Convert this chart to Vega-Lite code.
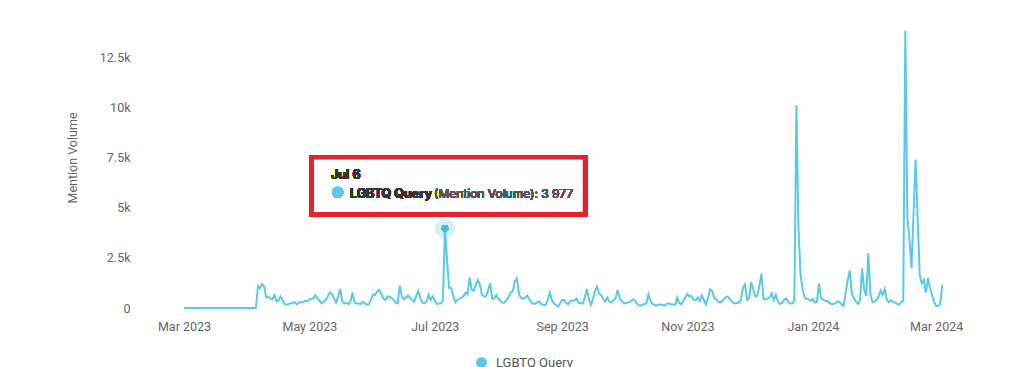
{
"$schema": "https://vega.github.io/schema/vega-lite/v6.json",
"width": 837, "height": 301,
"autosize": {"type": "none"},
"padding": {"left": 145, "top": 7, "right": 45, "bottom": 59},
"background": "#ffffff",
"config": {"view": {"stroke": null}, "font": "Roboto"},
"data": {"values": [
{"date":"2023-03-01","volume":0},{"date":"2023-03-02","volume":0},{"date":"2023-03-03","volume":0},{"date":"2023-03-04","volume":0},{"date":"2023-03-05","volume":0},{"date":"2023-03-06","volume":0},{"date":"2023-03-07","volume":0},{"date":"2023-03-08","volume":0},{"date":"2023-03-09","volume":0},{"date":"2023-03-10","volume":0},{"date":"2023-03-11","volume":0},{"date":"2023-03-12","volume":0},{"date":"2023-03-13","volume":0},{"date":"2023-03-14","volume":0},{"date":"2023-03-15","volume":0},{"date":"2023-03-16","volume":0},{"date":"2023-03-17","volume":0},{"date":"2023-03-18","volume":0},{"date":"2023-03-19","volume":0},{"date":"2023-03-20","volume":0},{"date":"2023-03-21","volume":0},{"date":"2023-03-22","volume":0},{"date":"2023-03-23","volume":0},{"date":"2023-03-24","volume":0},{"date":"2023-03-25","volume":0},{"date":"2023-03-26","volume":0},{"date":"2023-03-27","volume":0},{"date":"2023-03-28","volume":0},{"date":"2023-03-29","volume":0},{"date":"2023-03-30","volume":0},{"date":"2023-03-31","volume":0},
{"date":"2023-04-01","volume":0},{"date":"2023-04-02","volume":0},{"date":"2023-04-03","volume":0},{"date":"2023-04-04","volume":0},{"date":"2023-04-05","volume":0},{"date":"2023-04-06","volume":1100},{"date":"2023-04-07","volume":980},{"date":"2023-04-08","volume":1200},{"date":"2023-04-09","volume":1070},{"date":"2023-04-10","volume":530},{"date":"2023-04-11","volume":570},{"date":"2023-04-12","volume":480},{"date":"2023-04-13","volume":430},{"date":"2023-04-14","volume":650},{"date":"2023-04-15","volume":320},{"date":"2023-04-16","volume":400},{"date":"2023-04-17","volume":570},{"date":"2023-04-18","volume":400},{"date":"2023-04-19","volume":180},{"date":"2023-04-20","volume":170},{"date":"2023-04-21","volume":200},{"date":"2023-04-22","volume":230},{"date":"2023-04-23","volume":270},{"date":"2023-04-24","volume":280},{"date":"2023-04-25","volume":170},{"date":"2023-04-26","volume":280},{"date":"2023-04-27","volume":270},{"date":"2023-04-28","volume":300},{"date":"2023-04-29","volume":370},{"date":"2023-04-30","volume":330},
{"date":"2023-05-01","volume":430},{"date":"2023-05-02","volume":430},{"date":"2023-05-03","volume":480},{"date":"2023-05-04","volume":650},{"date":"2023-05-05","volume":450},{"date":"2023-05-06","volume":350},{"date":"2023-05-07","volume":230},{"date":"2023-05-08","volume":320},{"date":"2023-05-09","volume":400},{"date":"2023-05-10","volume":570},{"date":"2023-05-11","volume":780},{"date":"2023-05-12","volume":700},{"date":"2023-05-13","volume":480},{"date":"2023-05-14","volume":270},{"date":"2023-05-15","volume":570},{"date":"2023-05-16","volume":950},{"date":"2023-05-17","volume":320},{"date":"2023-05-18","volume":230},{"date":"2023-05-19","volume":270},{"date":"2023-05-20","volume":180},{"date":"2023-05-21","volume":320},{"date":"2023-05-22","volume":770},{"date":"2023-05-23","volume":270},{"date":"2023-05-24","volume":230},{"date":"2023-05-25","volume":230},{"date":"2023-05-26","volume":200},{"date":"2023-05-27","volume":320},{"date":"2023-05-28","volume":230},{"date":"2023-05-29","volume":170},{"date":"2023-05-30","volume":180},{"date":"2023-05-31","volume":430},
{"date":"2023-06-01","volume":680},{"date":"2023-06-02","volume":650},{"date":"2023-06-03","volume":820},{"date":"2023-06-04","volume":900},{"date":"2023-06-05","volume":700},{"date":"2023-06-06","volume":480},{"date":"2023-06-07","volume":400},{"date":"2023-06-08","volume":570},{"date":"2023-06-09","volume":570},{"date":"2023-06-10","volume":500},{"date":"2023-06-11","volume":420},{"date":"2023-06-12","volume":270},{"date":"2023-06-13","volume":230},{"date":"2023-06-14","volume":1120},{"date":"2023-06-15","volume":570},{"date":"2023-06-16","volume":430},{"date":"2023-06-17","volume":500},{"date":"2023-06-18","volume":620},{"date":"2023-06-19","volume":520},{"date":"2023-06-20","volume":400},{"date":"2023-06-21","volume":320},{"date":"2023-06-22","volume":600},{"date":"2023-06-23","volume":850},{"date":"2023-06-24","volume":500},{"date":"2023-06-25","volume":270},{"date":"2023-06-26","volume":230},{"date":"2023-06-27","volume":320},{"date":"2023-06-28","volume":650},{"date":"2023-06-29","volume":400},{"date":"2023-06-30","volume":570},
{"date":"2023-07-01","volume":400},{"date":"2023-07-02","volume":200},{"date":"2023-07-03","volume":230},{"date":"2023-07-04","volume":230},{"date":"2023-07-05","volume":400},{"date":"2023-07-06","volume":3977},{"date":"2023-07-07","volume":2400},{"date":"2023-07-08","volume":1000},{"date":"2023-07-09","volume":1000},{"date":"2023-07-10","volume":600},{"date":"2023-07-11","volume":280},{"date":"2023-07-12","volume":400},{"date":"2023-07-13","volume":450},{"date":"2023-07-14","volume":520},{"date":"2023-07-15","volume":600},{"date":"2023-07-16","volume":770},{"date":"2023-07-17","volume":680},{"date":"2023-07-18","volume":1530},{"date":"2023-07-19","volume":900},{"date":"2023-07-20","volume":850},{"date":"2023-07-21","volume":1150},{"date":"2023-07-22","volume":1400},{"date":"2023-07-23","volume":1150},{"date":"2023-07-24","volume":650},{"date":"2023-07-25","volume":570},{"date":"2023-07-26","volume":570},{"date":"2023-07-27","volume":900},{"date":"2023-07-28","volume":1230},{"date":"2023-07-29","volume":450},{"date":"2023-07-30","volume":480},{"date":"2023-07-31","volume":650},
{"date":"2023-08-01","volume":450},{"date":"2023-08-02","volume":350},{"date":"2023-08-03","volume":250},{"date":"2023-08-04","volume":280},{"date":"2023-08-05","volume":400},{"date":"2023-08-06","volume":550},{"date":"2023-08-07","volume":780},{"date":"2023-08-08","volume":850},{"date":"2023-08-09","volume":1320},{"date":"2023-08-10","volume":1480},{"date":"2023-08-11","volume":700},{"date":"2023-08-12","volume":500},{"date":"2023-08-13","volume":450},{"date":"2023-08-14","volume":500},{"date":"2023-08-15","volume":620},{"date":"2023-08-16","volume":450},{"date":"2023-08-17","volume":280},{"date":"2023-08-18","volume":200},{"date":"2023-08-19","volume":220},{"date":"2023-08-20","volume":280},{"date":"2023-08-21","volume":320},{"date":"2023-08-22","volume":180},{"date":"2023-08-23","volume":150},{"date":"2023-08-24","volume":150},{"date":"2023-08-25","volume":400},{"date":"2023-08-26","volume":770},{"date":"2023-08-27","volume":400},{"date":"2023-08-28","volume":230},{"date":"2023-08-29","volume":150},{"date":"2023-08-30","volume":70},{"date":"2023-08-31","volume":230},
{"date":"2023-09-01","volume":400},{"date":"2023-09-02","volume":400},{"date":"2023-09-03","volume":250},{"date":"2023-09-04","volume":180},{"date":"2023-09-05","volume":350},{"date":"2023-09-06","volume":380},{"date":"2023-09-07","volume":380},{"date":"2023-09-08","volume":480},{"date":"2023-09-09","volume":250},{"date":"2023-09-10","volume":250},{"date":"2023-09-11","volume":220},{"date":"2023-09-12","volume":500},{"date":"2023-09-13","volume":950},{"date":"2023-09-14","volume":480},{"date":"2023-09-15","volume":150},{"date":"2023-09-16","volume":450},{"date":"2023-09-17","volume":850},{"date":"2023-09-18","volume":1070},{"date":"2023-09-19","volume":700},{"date":"2023-09-20","volume":650},{"date":"2023-09-21","volume":450},{"date":"2023-09-22","volume":320},{"date":"2023-09-23","volume":520},{"date":"2023-09-24","volume":320},{"date":"2023-09-25","volume":270},{"date":"2023-09-26","volume":400},{"date":"2023-09-27","volume":480},{"date":"2023-09-28","volume":900},{"date":"2023-09-29","volume":500},{"date":"2023-09-30","volume":350},
{"date":"2023-10-01","volume":230},{"date":"2023-10-02","volume":250},{"date":"2023-10-03","volume":270},{"date":"2023-10-04","volume":300},{"date":"2023-10-05","volume":380},{"date":"2023-10-06","volume":430},{"date":"2023-10-07","volume":280},{"date":"2023-10-08","volume":150},{"date":"2023-10-09","volume":120},{"date":"2023-10-10","volume":150},{"date":"2023-10-11","volume":200},{"date":"2023-10-12","volume":230},{"date":"2023-10-13","volume":680},{"date":"2023-10-14","volume":350},{"date":"2023-10-15","volume":200},{"date":"2023-10-16","volume":150},{"date":"2023-10-17","volume":120},{"date":"2023-10-18","volume":180},{"date":"2023-10-19","volume":180},{"date":"2023-10-20","volume":150},{"date":"2023-10-21","volume":120},{"date":"2023-10-22","volume":220},{"date":"2023-10-23","volume":220},{"date":"2023-10-24","volume":190},{"date":"2023-10-25","volume":180},{"date":"2023-10-26","volume":150},{"date":"2023-10-27","volume":520},{"date":"2023-10-28","volume":250},{"date":"2023-10-29","volume":180},{"date":"2023-10-30","volume":350},{"date":"2023-10-31","volume":550},
{"date":"2023-11-01","volume":700},{"date":"2023-11-02","volume":570},{"date":"2023-11-03","volume":600},{"date":"2023-11-04","volume":400},{"date":"2023-11-05","volume":380},{"date":"2023-11-06","volume":520},{"date":"2023-11-07","volume":350},{"date":"2023-11-08","volume":620},{"date":"2023-11-09","volume":400},{"date":"2023-11-10","volume":180},{"date":"2023-11-11","volume":500},{"date":"2023-11-12","volume":930},{"date":"2023-11-13","volume":850},{"date":"2023-11-14","volume":500},{"date":"2023-11-15","volume":430},{"date":"2023-11-16","volume":320},{"date":"2023-11-17","volume":270},{"date":"2023-11-18","volume":350},{"date":"2023-11-19","volume":480},{"date":"2023-11-20","volume":580},{"date":"2023-11-21","volume":530},{"date":"2023-11-22","volume":400},{"date":"2023-11-23","volume":270},{"date":"2023-11-24","volume":230},{"date":"2023-11-25","volume":250},{"date":"2023-11-26","volume":270},{"date":"2023-11-27","volume":400},{"date":"2023-11-28","volume":1000},{"date":"2023-11-29","volume":1180},{"date":"2023-11-30","volume":400},
{"date":"2023-12-01","volume":500},{"date":"2023-12-02","volume":1280},{"date":"2023-12-03","volume":930},{"date":"2023-12-04","volume":570},{"date":"2023-12-05","volume":620},{"date":"2023-12-06","volume":1100},{"date":"2023-12-07","volume":1700},{"date":"2023-12-08","volume":450},{"date":"2023-12-09","volume":430},{"date":"2023-12-10","volume":480},{"date":"2023-12-11","volume":530},{"date":"2023-12-12","volume":730},{"date":"2023-12-13","volume":400},{"date":"2023-12-14","volume":650},{"date":"2023-12-15","volume":320},{"date":"2023-12-16","volume":200},{"date":"2023-12-17","volume":250},{"date":"2023-12-18","volume":400},{"date":"2023-12-19","volume":480},{"date":"2023-12-20","volume":320},{"date":"2023-12-21","volume":230},{"date":"2023-12-22","volume":230},{"date":"2023-12-23","volume":350},{"date":"2023-12-24","volume":10100},{"date":"2023-12-25","volume":4000},{"date":"2023-12-26","volume":1700},{"date":"2023-12-27","volume":950},{"date":"2023-12-28","volume":530},{"date":"2023-12-29","volume":450},{"date":"2023-12-30","volume":430},{"date":"2023-12-31","volume":350},
{"date":"2024-01-01","volume":450},{"date":"2024-01-02","volume":270},{"date":"2024-01-03","volume":300},{"date":"2024-01-04","volume":1230},{"date":"2024-01-05","volume":500},{"date":"2024-01-06","volume":430},{"date":"2024-01-07","volume":350},{"date":"2024-01-08","volume":370},{"date":"2024-01-09","volume":250},{"date":"2024-01-10","volume":200},{"date":"2024-01-11","volume":200},{"date":"2024-01-12","volume":230},{"date":"2024-01-13","volume":320},{"date":"2024-01-14","volume":300},{"date":"2024-01-15","volume":180},{"date":"2024-01-16","volume":100},{"date":"2024-01-17","volume":800},{"date":"2024-01-18","volume":1400},{"date":"2024-01-19","volume":1870},{"date":"2024-01-20","volume":700},{"date":"2024-01-21","volume":480},{"date":"2024-01-22","volume":320},{"date":"2024-01-23","volume":200},{"date":"2024-01-24","volume":400},{"date":"2024-01-25","volume":1980},{"date":"2024-01-26","volume":900},{"date":"2024-01-27","volume":600},{"date":"2024-01-28","volume":2730},{"date":"2024-01-29","volume":700},{"date":"2024-01-30","volume":300},{"date":"2024-01-31","volume":320},
{"date":"2024-02-01","volume":400},{"date":"2024-02-02","volume":570},{"date":"2024-02-03","volume":870},{"date":"2024-02-04","volume":650},{"date":"2024-02-05","volume":950},{"date":"2024-02-06","volume":400},{"date":"2024-02-07","volume":280},{"date":"2024-02-08","volume":400},{"date":"2024-02-09","volume":300},{"date":"2024-02-10","volume":280},{"date":"2024-02-11","volume":200},{"date":"2024-02-12","volume":150},{"date":"2024-02-13","volume":300},{"date":"2024-02-14","volume":350},{"date":"2024-02-15","volume":13820},{"date":"2024-02-16","volume":4570},{"date":"2024-02-17","volume":3400},{"date":"2024-02-18","volume":1980},{"date":"2024-02-19","volume":4700},{"date":"2024-02-20","volume":7400},{"date":"2024-02-21","volume":4500},{"date":"2024-02-22","volume":1650},{"date":"2024-02-23","volume":1230},{"date":"2024-02-24","volume":1400},{"date":"2024-02-25","volume":770},{"date":"2024-02-26","volume":1480},{"date":"2024-02-27","volume":1000},{"date":"2024-02-28","volume":650},{"date":"2024-02-29","volume":320},
{"date":"2024-03-01","volume":100},{"date":"2024-03-02","volume":100},{"date":"2024-03-03","volume":200},{"date":"2024-03-04","volume":1150}
]},
"layer": [
{"mark": {"type": "point", "filled": true, "size": 380, "fill": "#d6f1f8", "strokeWidth": 0, "opacity": 1},
 "encoding": {"x": {"datum": {"year": 2023, "month": 7, "date": 6, "utc": true}, "type": "temporal"}, "y": {"datum": 3977, "type": "quantitative"}}},
{"mark": {"type": "line", "strokeWidth": 2, "interpolate": "linear"},
 "encoding": {
  "x": {"field": "date", "type": "temporal",
        "scale": {"type": "utc", "domain": [{"year": 2023, "month": 2, "date": 10, "hours": 0, "minutes": 30, "utc": true}, {"year": 2024, "month": 3, "date": 23, "hours": 7, "minutes": 40, "utc": true}]},
        "axis": {"title": null, "format": "%b %Y", "tickCount": {"interval": "month", "step": 2}, "grid": false, "domain": false, "ticks": false, "labelPadding": 12, "labelFontSize": 12.5, "labelColor": "#666666", "labelFont": "Roboto"}},
  "y": {"field": "volume", "type": "quantitative",
        "scale": {"domain": [0, 15000], "nice": false},
        "axis": {"title": "Mention Volume", "values": [0, 2500, 5000, 7500, 10000, 12500], "labelExpr": "datum.value === 0 ? '0' : (datum.value / 1000) + 'k'", "domain": false, "ticks": false, "labelPadding": 15, "labelFontSize": 12.5, "labelColor": "#666666", "labelFont": "Roboto", "titleColor": "#666666", "titleFont": "Roboto", "titleFontSize": 12.5, "titleFontWeight": "normal", "titlePadding": 20, "gridDash": [1, 2], "gridWidth": 1, "gridColor": {"condition": {"test": "datum.value === 0", "value": "#8e94a3"}, "value": "#bdbdbd"}}},
  "color": {"datum": "LGBTQ Query", "scale": {"range": ["#58c9e6"]},
            "legend": {"orient": "none", "legendX": 330, "legendY": 349, "title": null, "symbolType": "circle", "symbolSize": 120, "symbolFillColor": "#58c9e6", "symbolStrokeWidth": 0, "labelFontSize": 13, "labelColor": "#555555", "labelFont": "Roboto", "labelOffset": 8}}
 }},
{"mark": {"type": "point", "filled": true, "size": 40, "fill": "#45bfdd", "strokeWidth": 0, "opacity": 1},
 "encoding": {"x": {"datum": {"year": 2023, "month": 7, "date": 6, "utc": true}, "type": "temporal"}, "y": {"datum": 3977, "type": "quantitative"}}},
{"mark": {"type": "rect", "fill": "#ffffff", "stroke": "#e8202a", "strokeWidth": 4.5},
 "encoding": {"x": {"datum": {"year": 2023, "month": 5, "date": 2, "hours": 3, "minutes": 20, "utc": true}, "type": "temporal"},
              "x2": {"datum": {"year": 2023, "month": 9, "date": 12, "hours": 3, "utc": true}},
              "y": {"datum": 7514, "type": "quantitative"}, "y2": {"datum": 4669}}},
{"mark": {"type": "text", "text": "Jul 6", "font": "Inter", "fontWeight": "bold", "fontSize": 12.5, "fill": "#333333", "strokeWidth": 0, "align": "left", "baseline": "alphabetic"},
 "encoding": {"x": {"datum": {"year": 2023, "month": 5, "date": 11, "hours": 12, "minutes": 45, "utc": true}, "type": "temporal"}, "y": {"datum": 6413, "type": "quantitative"}}},
{"mark": {"type": "point", "filled": true, "size": 125, "fill": "#58c9e6", "strokeWidth": 0, "opacity": 1},
 "encoding": {"x": {"datum": {"year": 2023, "month": 5, "date": 14, "hours": 19, "utc": true}, "type": "temporal"}, "y": {"datum": 5765, "type": "quantitative"}}},
{"mark": {"type": "text", "text": "LGBTQ Query", "font": "Inter", "fontWeight": "bold", "fontSize": 12.5, "fill": "#333333", "strokeWidth": 0, "align": "left", "baseline": "alphabetic"},
 "encoding": {"x": {"datum": {"year": 2023, "month": 5, "date": 20, "hours": 18, "minutes": 40, "utc": true}, "type": "temporal"}, "y": {"datum": 5466, "type": "quantitative"}}},
{"mark": {"type": "text", "text": "(Mention Volume): 3 977", "font": "Inter", "fontSize": 12, "fill": "#555555", "strokeWidth": 0, "align": "left", "baseline": "alphabetic"},
 "encoding": {"x": {"datum": {"year": 2023, "month": 6, "date": 30, "hours": 15, "minutes": 40, "utc": true}, "type": "temporal"}, "y": {"datum": 5466, "type": "quantitative"}}}
]
}
